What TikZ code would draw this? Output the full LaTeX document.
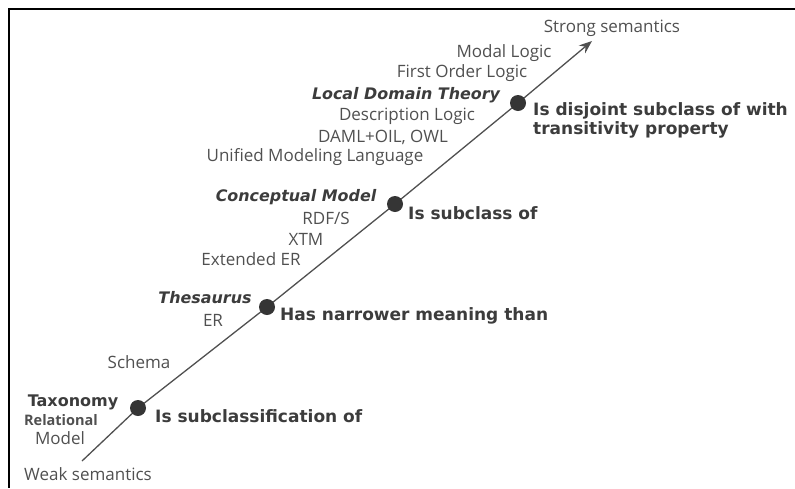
\documentclass[tikz,border=0pt]{standalone}
\usepackage{fontspec}
\setmainfont{Open Sans}
\newfontfamily\boldfam{DejaVu Sans}
\usetikzlibrary{arrows.meta}
\pgfdeclarelayer{background}
\pgfsetlayers{background,main}
\definecolor{txt}{HTML}{505050}
\definecolor{btxt}{HTML}{3C3C3C}
\definecolor{lne}{HTML}{505050}
\definecolor{dotc}{HTML}{353535}
\tikzset{
  lbl/.style={inner sep=0pt, text=txt, font=\fontsize{17}{20}\selectfont},
  rel/.style={inner sep=0pt, text=btxt, anchor=west, align=left, font=\boldfam\bfseries\fontsize{17}{19}\selectfont},
  head/.style={inner sep=0pt, text=btxt, font=\boldfam\bfseries\itshape\fontsize{15.9}{18}\selectfont},
  dotnode/.style={circle, fill=dotc, minimum size=16pt, inner sep=0pt},
  axis/.style={draw=lne, line width=1.3pt, -{Stealth[length=13pt,width=10pt]}},
  frame/.style={draw=black, line width=2pt}
}
\begin{document}
\begin{tikzpicture}[x=1pt,y=-1pt]
\useasboundingbox (0,0) rectangle (795,488);
\draw[frame] (795,9) -- (9,9) -- (9,488);
% dots
\node[dotnode] (d1) at (138,408) {};
\node[dotnode] (d2) at (267,307) {};
\node[dotnode] (d3) at (395,204) {};
\node[dotnode] (d4) at (518,103) {};
\coordinate (start) at (82,461);
\coordinate (tip) at (592,41);
\begin{pgfonlayer}{background}
\draw[axis] (start) -- (d1.center) -- (d2.center) -- (d3.center) -- (d4.center) -- (tip);
\end{pgfonlayer}
% labels
\node[lbl] (ss) at (612,28) {Strong semantics};
\node[lbl] (ml) at (504,53) {Modal Logic};
\node[lbl] (fol) at (462,73) {First Order Logic};
\node[head] (ldt) at (406,95) {Local Domain Theory};
\node[lbl] (dl) at (407,116) {Description Logic};
\node[lbl] (daml) at (383,137) {DAML+OIL, OWL};
\node[lbl] (uml) at (315,157) {Unified Modeling Language};
\node[rel] (disj) at (533,120) {Is disjoint subclass of with\\transitivity property};
\node[head] (cm) at (296,197) {Conceptual Model};
\node[rel] (subc) at (408,213) {Is subclass of};
\node[lbl] (rdf) at (326,218) {RDF/S};
\node[lbl] (xtm) at (306,239) {XTM};
\node[lbl] (eer) at (251,259) {Extended ER};
\node[head] (thes) at (205,298) {Thesaurus};
\node[lbl] (er) at (213,320) {ER};
\node[rel] (narrow) at (280,316) {Has narrower meaning than};
\node[lbl] (schema) at (139,362) {Schema};
\node[inner sep=0pt, text=btxt, font=\boldfam\bfseries\fontsize{16}{18}\selectfont] (tax) at (73,402) {Taxonomy};
\node[inner sep=0pt, text=txt, font=\fontsize{14.5}{16}\selectfont\bfseries] (relm) at (61,420.5) {Relational};
\node[lbl] (model) at (60,438) {Model};
\node[rel] (subcl) at (155,416) {Is subclassification of};
\node[lbl] (weak) at (88,474) {Weak semantics};
\end{tikzpicture}
\end{document}
